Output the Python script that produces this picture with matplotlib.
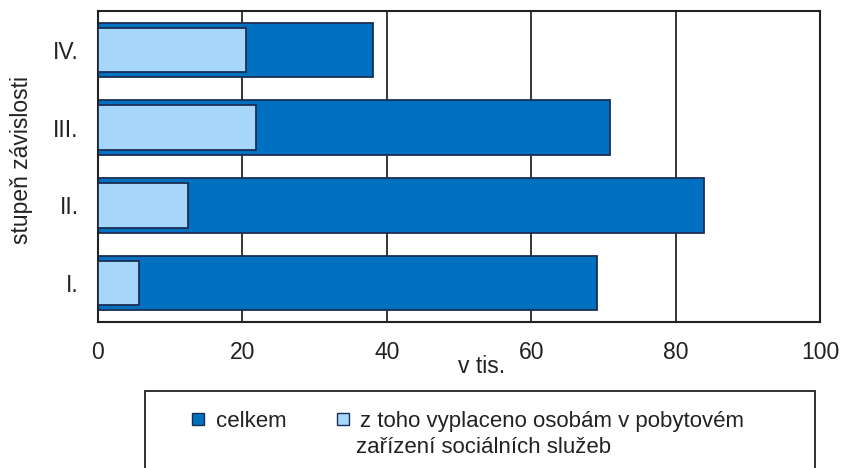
import matplotlib
matplotlib.use("Agg")
import matplotlib.pyplot as plt
from matplotlib.patches import Rectangle

categories = ["I.", "II.", "III.", "IV."]
celkem = [69.1, 83.9, 70.9, 38.1]
pobytove = [5.7, 12.5, 21.9, 20.5]
xticks = [0, 20, 40, 60, 80, 100]
legend_labels = ["celkem", "z toho vyplaceno osobám v pobytovém\nzařízení sociálních služeb"]
xlabel = "v tis."
ylabel = "stupeň závislosti"

FONT = ["Liberation Sans", "DejaVu Sans"]
plt.rcParams["font.family"] = FONT

W, H = 842, 468
fig = plt.figure(figsize=(W / 100, H / 100), dpi=100)
ax = fig.add_axes([98 / W, 1 - 322 / H, 722 / W, 311 / H])

dark = "#0070C0"
light = "#A6D6FA"
edge = "#1B2E55"
txt = "#222222"

ypos = list(range(len(categories)))
ax.barh(ypos, celkem, height=0.70, color=dark, edgecolor=edge, linewidth=1.3, zorder=2)
ax.barh(ypos, pobytove, height=0.57, color=light, edgecolor=edge, linewidth=1.3, zorder=3)

ax.set_xlim(0, 100)
ax.set_ylim(-0.5, len(categories) - 0.5)
ax.set_xticks(xticks)
ax.set_xticklabels([str(v) for v in xticks], fontsize=16.5, color=txt)
ax.set_yticks(ypos)
ax.set_yticklabels(categories, fontsize=16.5, color=txt)
ax.tick_params(axis="both", length=0)
ax.tick_params(axis="x", pad=14)
ax.tick_params(axis="y", pad=14)
ax.grid(axis="x", color="black", linewidth=1.1, zorder=0)
ax.set_axisbelow(True)
for s in ax.spines.values():
    s.set_color(txt)
    s.set_linewidth(1.5)

fig.text(482 / W, 1 - 373 / H, xlabel, fontsize=16.5, ha="center", va="baseline", color=txt)
fig.text(22 / W, 1 - 160 / H, ylabel, fontsize=16.5, ha="center", va="center", rotation=90, color=txt)

# legend box (manually drawn)
fig.patches.append(Rectangle((145 / W, -10 / H), 670 / W, (H - 391 + 10) / H,
                             transform=fig.transFigure, facecolor="white", edgecolor=txt,
                             linewidth=1.3, zorder=5))
fig.patches.append(Rectangle((192 / W, 1 - 425 / H), 12 / W, 12 / H, transform=fig.transFigure,
                             facecolor=dark, edgecolor=edge, linewidth=1.0, zorder=6))
fig.patches.append(Rectangle((337 / W, 1 - 425 / H), 12 / W, 12 / H, transform=fig.transFigure,
                             facecolor=light, edgecolor=edge, linewidth=1.0, zorder=6))
fig.text(216 / W, 1 - 427 / H, legend_labels[0], fontsize=16, ha="left", va="baseline",
         color=txt, zorder=7)
lines = legend_labels[1].split("\n")
fig.text(360 / W, 1 - 427 / H, lines[0], fontsize=16, ha="left", va="baseline",
         color=txt, zorder=7)
fig.text(356 / W, 1 - 453 / H, lines[1], fontsize=16, ha="left", va="baseline",
         color=txt, zorder=7)

fig.savefig("out.png", dpi=100, facecolor="white")
